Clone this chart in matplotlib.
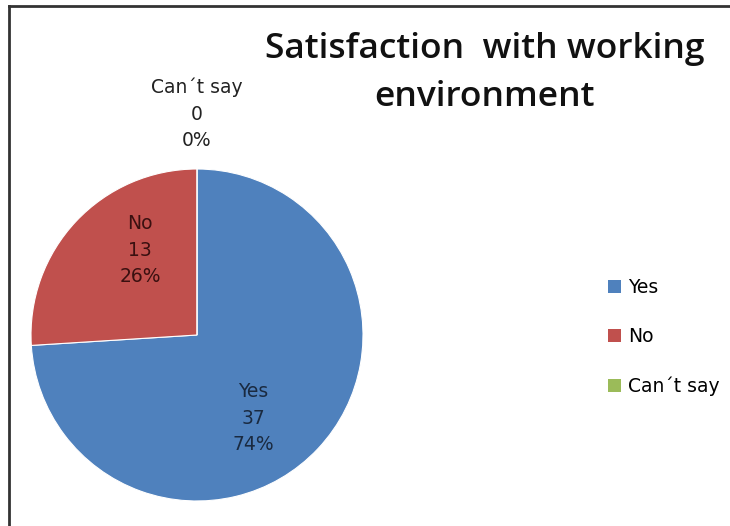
import matplotlib
matplotlib.use("Agg")
import matplotlib.pyplot as plt
from matplotlib.lines import Line2D
from matplotlib.patches import Patch

categories = ["Yes", "No", "Can\u00b4t say"]
values = [37, 13, 0]
colors = ["#4F81BD", "#C0504D", "#9BBB59"]
title = "Satisfaction  with working\nenvironment"

W, H = 730, 526
fig = plt.figure(figsize=(W / 100, H / 100), dpi=100)
fig.patch.set_facecolor("white")

# frame lines (left and top)
fig.add_artist(Line2D([9 / W, 9 / W], [0, 1 - 6 / H], transform=fig.transFigure,
                      color="#333333", lw=2))
fig.add_artist(Line2D([9 / W, 1], [1 - 6 / H, 1 - 6 / H], transform=fig.transFigure,
                      color="#333333", lw=2))

cx, cy, r = 197, 335, 166
ax = fig.add_axes([(cx - r) / W, (H - cy - r) / H, 2 * r / W, 2 * r / H])
wedges, _ = ax.pie(values, colors=colors, startangle=90, counterclock=False,
                   radius=1, wedgeprops=dict(linewidth=0.8, edgecolor="white"))
ax.set_xlim(-1, 1)
ax.set_ylim(-1, 1)
ax.set_aspect("equal")
ax.axis("off")

total = sum(values)
label_pos = [(0.337, -0.50), (-0.343, 0.512), (0.0, 1.33)]
label_col = ["#1a2a40", "#3a1010", "#222222"]
for cat, v, pos, c in zip(categories, values, label_pos, label_col):
    ax.text(pos[0], pos[1], f"{cat}\n{v}\n{round(100 * v / total)}%",
            ha="center", va="center", fontsize=13.5, color=c,
            family="DejaVu Sans", linespacing=1.5, clip_on=False)

fig.text(485 / W, 1 - 73 / H, title, ha="center", va="center", fontsize=25.5,
         family="Open Sans", weight="semibold", color="#111111", linespacing=1.55)

handles = [Patch(facecolor=c, edgecolor="none") for c in colors]
leg = fig.legend(handles, categories, loc="center left",
                 bbox_to_anchor=(591 / W, 1 - 337 / H), frameon=False,
                 handlelength=0.7, handleheight=0.7,
                 handletextpad=0.4, labelspacing=1.6,
                 prop=dict(family="DejaVu Sans", size=13.5))

fig.savefig("out.png", dpi=100, facecolor="white")
